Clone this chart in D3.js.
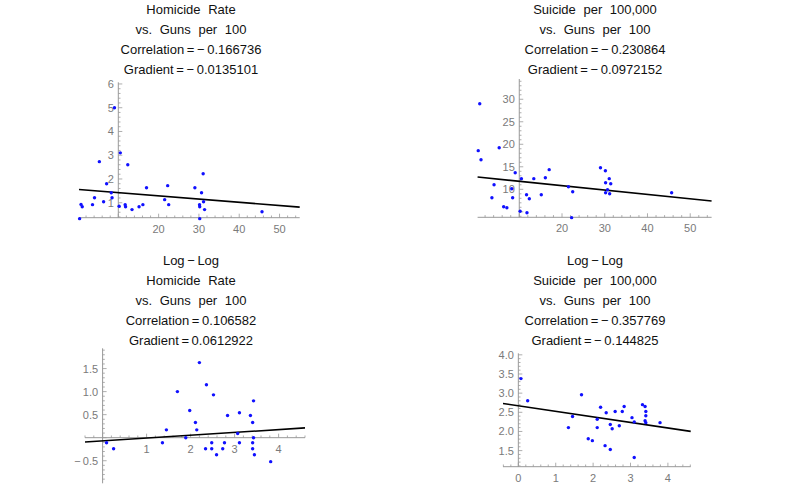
<!DOCTYPE html>
<html><head><meta charset="utf-8">
<script src="https://cdn.jsdelivr.net/npm/d3@7"></script>
<style>
body{margin:0;background:#fff;}
svg{display:block;}
</style></head>
<body>
<script>
// ---------- data ----------
const guns = [0.4,0.75,1.05,3.6,4.1,5.3,6.35,7.1,8.25,8.45,9.05,10.2,10.5,11.7,11.8,12.35,13.4,15.15,16.1,17.0,21.5,22.25,22.5,29.0,30.15,30.2,30.2,30.65,31.05,31.15,31.4,45.65];
const homicide = [0.33,0.93,0.83,0.92,1.21,2.73,1.04,1.80,1.42,1.21,5.0,0.85,3.1,0.92,0.83,2.6,0.71,0.83,0.92,1.63,1.13,1.72,0.92,1.63,0.92,0.83,0.33,1.42,2.22,1.04,0.71,0.62];
const suicide = [18.58,29.0,16.58,8.13,11.02,19.24,6.13,5.91,10.13,8.13,13.69,5.11,12.36,8.8,4.8,7.91,12.36,8.8,12.58,14.36,10.58,3.7,9.47,14.8,14.13,11.47,9.24,9.91,12.36,9.02,11.24,9.24];

const logGunsH = [0.09,0.25,1.36,1.45,1.70,1.89,1.98,2.11,2.14,2.20,2.34,2.36,2.48,2.48,2.52,2.59,2.73,2.77,2.84,3.07,3.11,3.11,3.36,3.41,3.41,3.41,3.43,3.43,3.45,3.82];
const logHomicide = [-0.11,-0.24,-0.11,0.17,1.0,0.0,0.59,0.33,0.17,1.63,-0.24,1.15,-0.11,-0.24,0.93,-0.37,-0.24,-0.11,0.48,0.09,0.54,-0.11,0.48,0.33,-0.11,-0.24,0.80,0.0,-0.37,-0.52];

const logGunsS = [0.07,0.25,1.34,1.45,1.69,1.87,1.98,2.11,2.11,2.20,2.32,2.35,2.46,2.46,2.51,2.59,2.70,2.78,2.83,3.04,3.10,3.10,3.32,3.39,3.41,3.41,3.39,3.41,3.79];
const logSuicide = [3.38,2.80,2.10,2.39,2.96,1.81,1.76,2.32,2.10,2.63,1.63,2.49,1.53,2.18,2.07,2.52,2.15,2.52,2.65,2.36,2.25,1.32,2.70,2.65,2.52,2.41,2.28,2.23,2.23];

const gradients = [-0.0135101, -0.0972152, 0.0612922, -0.144825];
const intercepts = [1.56, 12.75, -0.07, 2.67];
const correlations = ["\u2212\u20090.166736", "\u2212\u20090.230864", "0.106582", "\u2212\u20090.357769"];

const titleHeads = [
  ["Homicide Rate"],
  ["Suicide per 100,000"],
  ["Log\u2009\u2212\u2009Log", "Homicide Rate"],
  ["Log\u2009\u2212\u2009Log", "Suicide per 100,000"]
];

const xTicksTL = [10,20,30,40,50], yTicksTL = [1,2,3,4,5,6];
const xTicksTR = [10,20,30,40,50], yTicksTR = [10,15,20,25,30];
const xTicksBL = [0,1,2,3,4], yTicksBL = [-0.5,0,0.5,1.0,1.5];
const xTicksBR = [0,1,2,3,4], yTicksBR = [1.5,2.0,2.5,3.0,3.5,4.0];

// ---------- layout ----------
const panels = [
  {xs:guns, ys:homicide, xd:[0.25,55], xr:[79,299.7], yd:[0.37,6.07], yr:[217.7,82.3],
   ox:10, oy:0.37, xt:xTicksTL, yt:yTicksTL, xMinor:2, yMinor:0.2, hideX:[10], hideY:[], fmtY:d3.format("d"),
   tx:191, ty0:9},
  {xs:guns, ys:suicide, xd:[0.25,55], xr:[477.6,711.6], yd:[3.78,34.5], yr:[217.3,79],
   ox:10, oy:3.78, xt:xTicksTR, yt:yTicksTR, xMinor:2, yMinor:1, hideX:[10], hideY:[], fmtY:d3.format("d"),
   tx:595, ty0:9},
  {xs:logGunsH, ys:logHomicide, xd:[-0.4,4.6], xr:[85,305], yd:[-0.99,1.94], yr:[483.3,348.3],
   ox:0, oy:0, xt:xTicksBL, yt:yTicksBL, xMinor:0.2, yMinor:0.1, hideX:[0], hideY:[0], fmtY:d3.format(".1f"),
   tx:191, ty0:260},
  {xs:logGunsS, ys:logSuicide, xd:[-0.41,4.61], xr:[503,690.7], yd:[1.08,4.04], yr:[466.7,353.3],
   ox:0, oy:1.08, xt:xTicksBR, yt:yTicksBR, xMinor:0.2, yMinor:0.1, hideX:[], hideY:[], fmtY:d3.format(".1f"),
   tx:595, ty0:260}
];

const W = 786, H = 486;
const svg = d3.select("body").append("svg").attr("width", W).attr("height", H);
const axisCol = "#999999", labelCol = "#7a7a7a";
const fontFam = "'Liberation Sans', Arial, Helvetica, sans-serif";

function fmtNum(f, v){
  const s = f(Math.abs(v));
  return v < 0 ? "\u2212\u2009" + s : s;
}

panels.forEach((p, i) => {
  const g = svg.append("g");
  const x = d3.scaleLinear().domain(p.xd).range(p.xr);
  const y = d3.scaleLinear().domain(p.yd).range(p.yr);
  const ax = x(p.ox), ay = y(p.oy);

  // titles
  const lines = titleHeads[i].concat(["vs. Guns per 100",
    "Correlation\u2009=\u2009" + correlations[i],
    "Gradient\u2009=\u2009" + fmtNum(v => String(v), gradients[i])]);
  lines.forEach((t, k) => {
    g.append("text").attr("x", p.tx).attr("y", p.ty0 + 20*k)
      .attr("text-anchor", "middle").attr("dominant-baseline", "central")
      .attr("font-family", fontFam).attr("font-size", 13).attr("word-spacing", 4)
      .attr("fill", "#111").text(t);
  });

  // axes lines
  g.append("line").attr("x1", p.xr[0]).attr("x2", p.xr[1]).attr("y1", ay).attr("y2", ay)
    .attr("stroke", axisCol).attr("stroke-width", 1);
  g.append("line").attr("x1", ax).attr("x2", ax).attr("y1", p.yr[0]).attr("y2", p.yr[1])
    .attr("stroke", axisCol).attr("stroke-width", 1);

  // minor & major ticks x
  const eps = 1e-9;
  const xMin = Math.ceil((p.xd[0] - eps)/p.xMinor), xMax = Math.floor((p.xd[1] + eps)/p.xMinor);
  for (let k = xMin; k <= xMax; k++) {
    const v = k*p.xMinor;
    const major = p.xt.some(t => Math.abs(t - v) < 1e-6) || Math.abs(v/ (p.xt[1]-p.xt[0]) - Math.round(v/(p.xt[1]-p.xt[0]))) < 1e-6;
    g.append("line").attr("x1", x(v)).attr("x2", x(v)).attr("y1", ay).attr("y2", ay - (major ? 4 : 2.2))
      .attr("stroke", axisCol).attr("stroke-width", 0.8);
  }
  const yStep = p.yt[1]-p.yt[0];
  const yMin = Math.ceil((p.yd[0] - eps)/p.yMinor), yMax = Math.floor((p.yd[1] + eps)/p.yMinor);
  for (let k = yMin; k <= yMax; k++) {
    const v = k*p.yMinor;
    const major = Math.abs(v/yStep - Math.round(v/yStep)) < 1e-6;
    g.append("line").attr("x1", ax).attr("x2", ax + (major ? 4 : 2.2)).attr("y1", y(v)).attr("y2", y(v))
      .attr("stroke", axisCol).attr("stroke-width", 0.8);
  }

  // tick labels
  p.xt.filter(v => !p.hideX.includes(v)).forEach(v => {
    g.append("text").attr("x", x(v)).attr("y", ay + 11).attr("text-anchor", "middle")
      .attr("dominant-baseline", "central").attr("font-family", fontFam).attr("font-size", 11)
      .attr("fill", labelCol).text(fmtNum(d3.format("d"), v));
  });
  p.yt.filter(v => !p.hideY.includes(v)).forEach(v => {
    g.append("text").attr("x", ax - 4.5).attr("y", y(v)).attr("text-anchor", "end")
      .attr("dominant-baseline", "central").attr("font-family", fontFam).attr("font-size", 11)
      .attr("fill", labelCol).text(fmtNum(p.fmtY, v));
  });

  // fit line
  const x0 = p.xd[0], x1 = p.xd[1];
  g.append("line").attr("x1", x(x0)).attr("y1", y(intercepts[i] + gradients[i]*x0))
    .attr("x2", x(x1)).attr("y2", y(intercepts[i] + gradients[i]*x1))
    .attr("stroke", "#000").attr("stroke-width", 1.6);

  // points
  g.selectAll("circle").data(p.xs.map((d, k) => [d, p.ys[k]])).join("circle")
    .attr("cx", d => x(d[0])).attr("cy", d => y(d[1])).attr("r", 1.7)
    .attr("fill", "#1010ff");
});
</script>
</body></html>
